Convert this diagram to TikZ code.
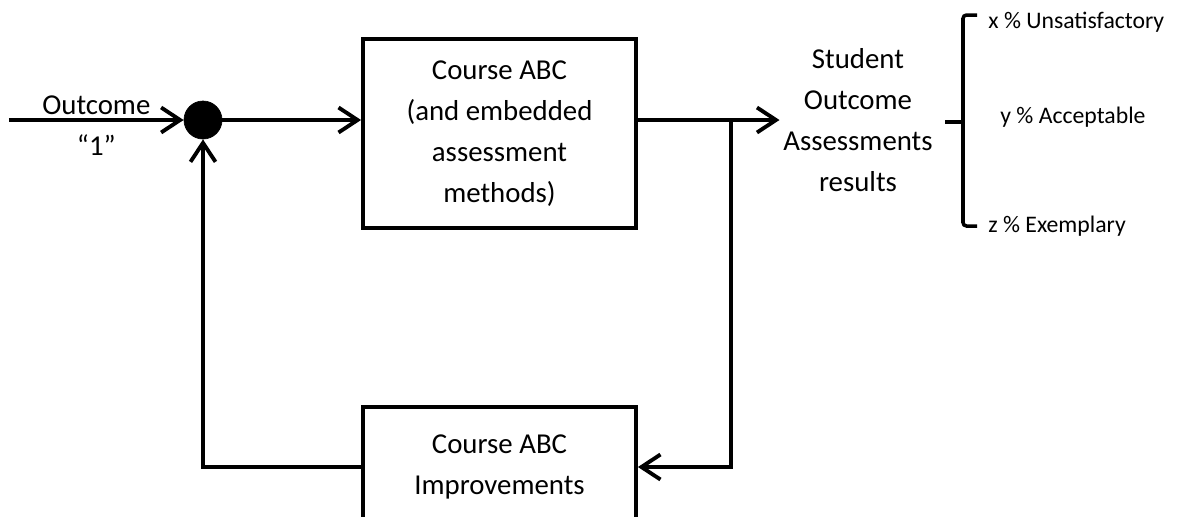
\documentclass[tikz,border=0pt]{standalone}
\usepackage{fontspec}
\setmainfont{Carlito}
\usetikzlibrary{arrows.meta}

\tikzset{
    >={Straight Barb[length=3.8mm, width=5mm]},
    bigtext/.style={font=\fontsize{16.4}{23.2}\selectfont, align=center},
    smalltext/.style={font=\fontsize{13.5}{16}\selectfont, anchor=west,
        inner sep=2pt},
    block/.style={draw, line width=2.2pt, minimum width=5.46cm, bigtext},
    wire/.style={->, line width=2.2pt},
}

\begin{document}
\begin{tikzpicture}
    \useasboundingbox (0, 0) rectangle (23.6, -10.32);
    \clip (0, 0) rectangle (23.6, -10.32);

    \node[draw, circle, fill=black, minimum size=0.76cm, inner sep=0pt] (sum)
        at (4.06, -2.4) {};
    \node[block, minimum height=3.78cm] (course) at (9.99, -2.67) {Course ABC\\
        (and embedded\\assessment\\methods)};
    \node[block, minimum height=2.4cm] (improve) at (9.99, -9.34) {Course ABC\\
        Improvements};
    \node[bigtext, inner sep=2pt] (results) at (17.16, -2.4) {Student\\Outcome\\
        Assessments\\results};
    \node[smalltext] (unsat) at (19.69, -0.44) {x \% Unsatisfactory};
    \node[smalltext] (accept) at (19.93, -2.34) {y \% Acceptable};
    \node[smalltext] (exemp) at (19.69, -4.52) {z \% Exemplary};
    \coordinate (input) at (0.18, -2.4);
    \coordinate (split) at (14.62, -2.4);

    \draw[wire] (input) -- node[bigtext, above, inner sep=2pt] (outcome)
        {Outcome} node[bigtext, below, yshift=-4pt] (one) {“1”} (sum);
    \draw[wire] (sum) -- (sum -| course.west);
    \draw[wire] (sum -| course.east) -- (results.west);
    \draw[wire] (split) |- (improve.east);
    \draw[wire] (improve.west) -| (sum);

    % brace in front of the three levels
    \draw[line width=2pt, rounded corners=2pt] (19.54, -0.3) -- (19.26, -0.3)
        -- (19.26, -4.52) -- (19.54, -4.52);
    \draw[line width=2pt] (18.9, -2.44) -- (19.26, -2.44);
\end{tikzpicture}
\end{document}
